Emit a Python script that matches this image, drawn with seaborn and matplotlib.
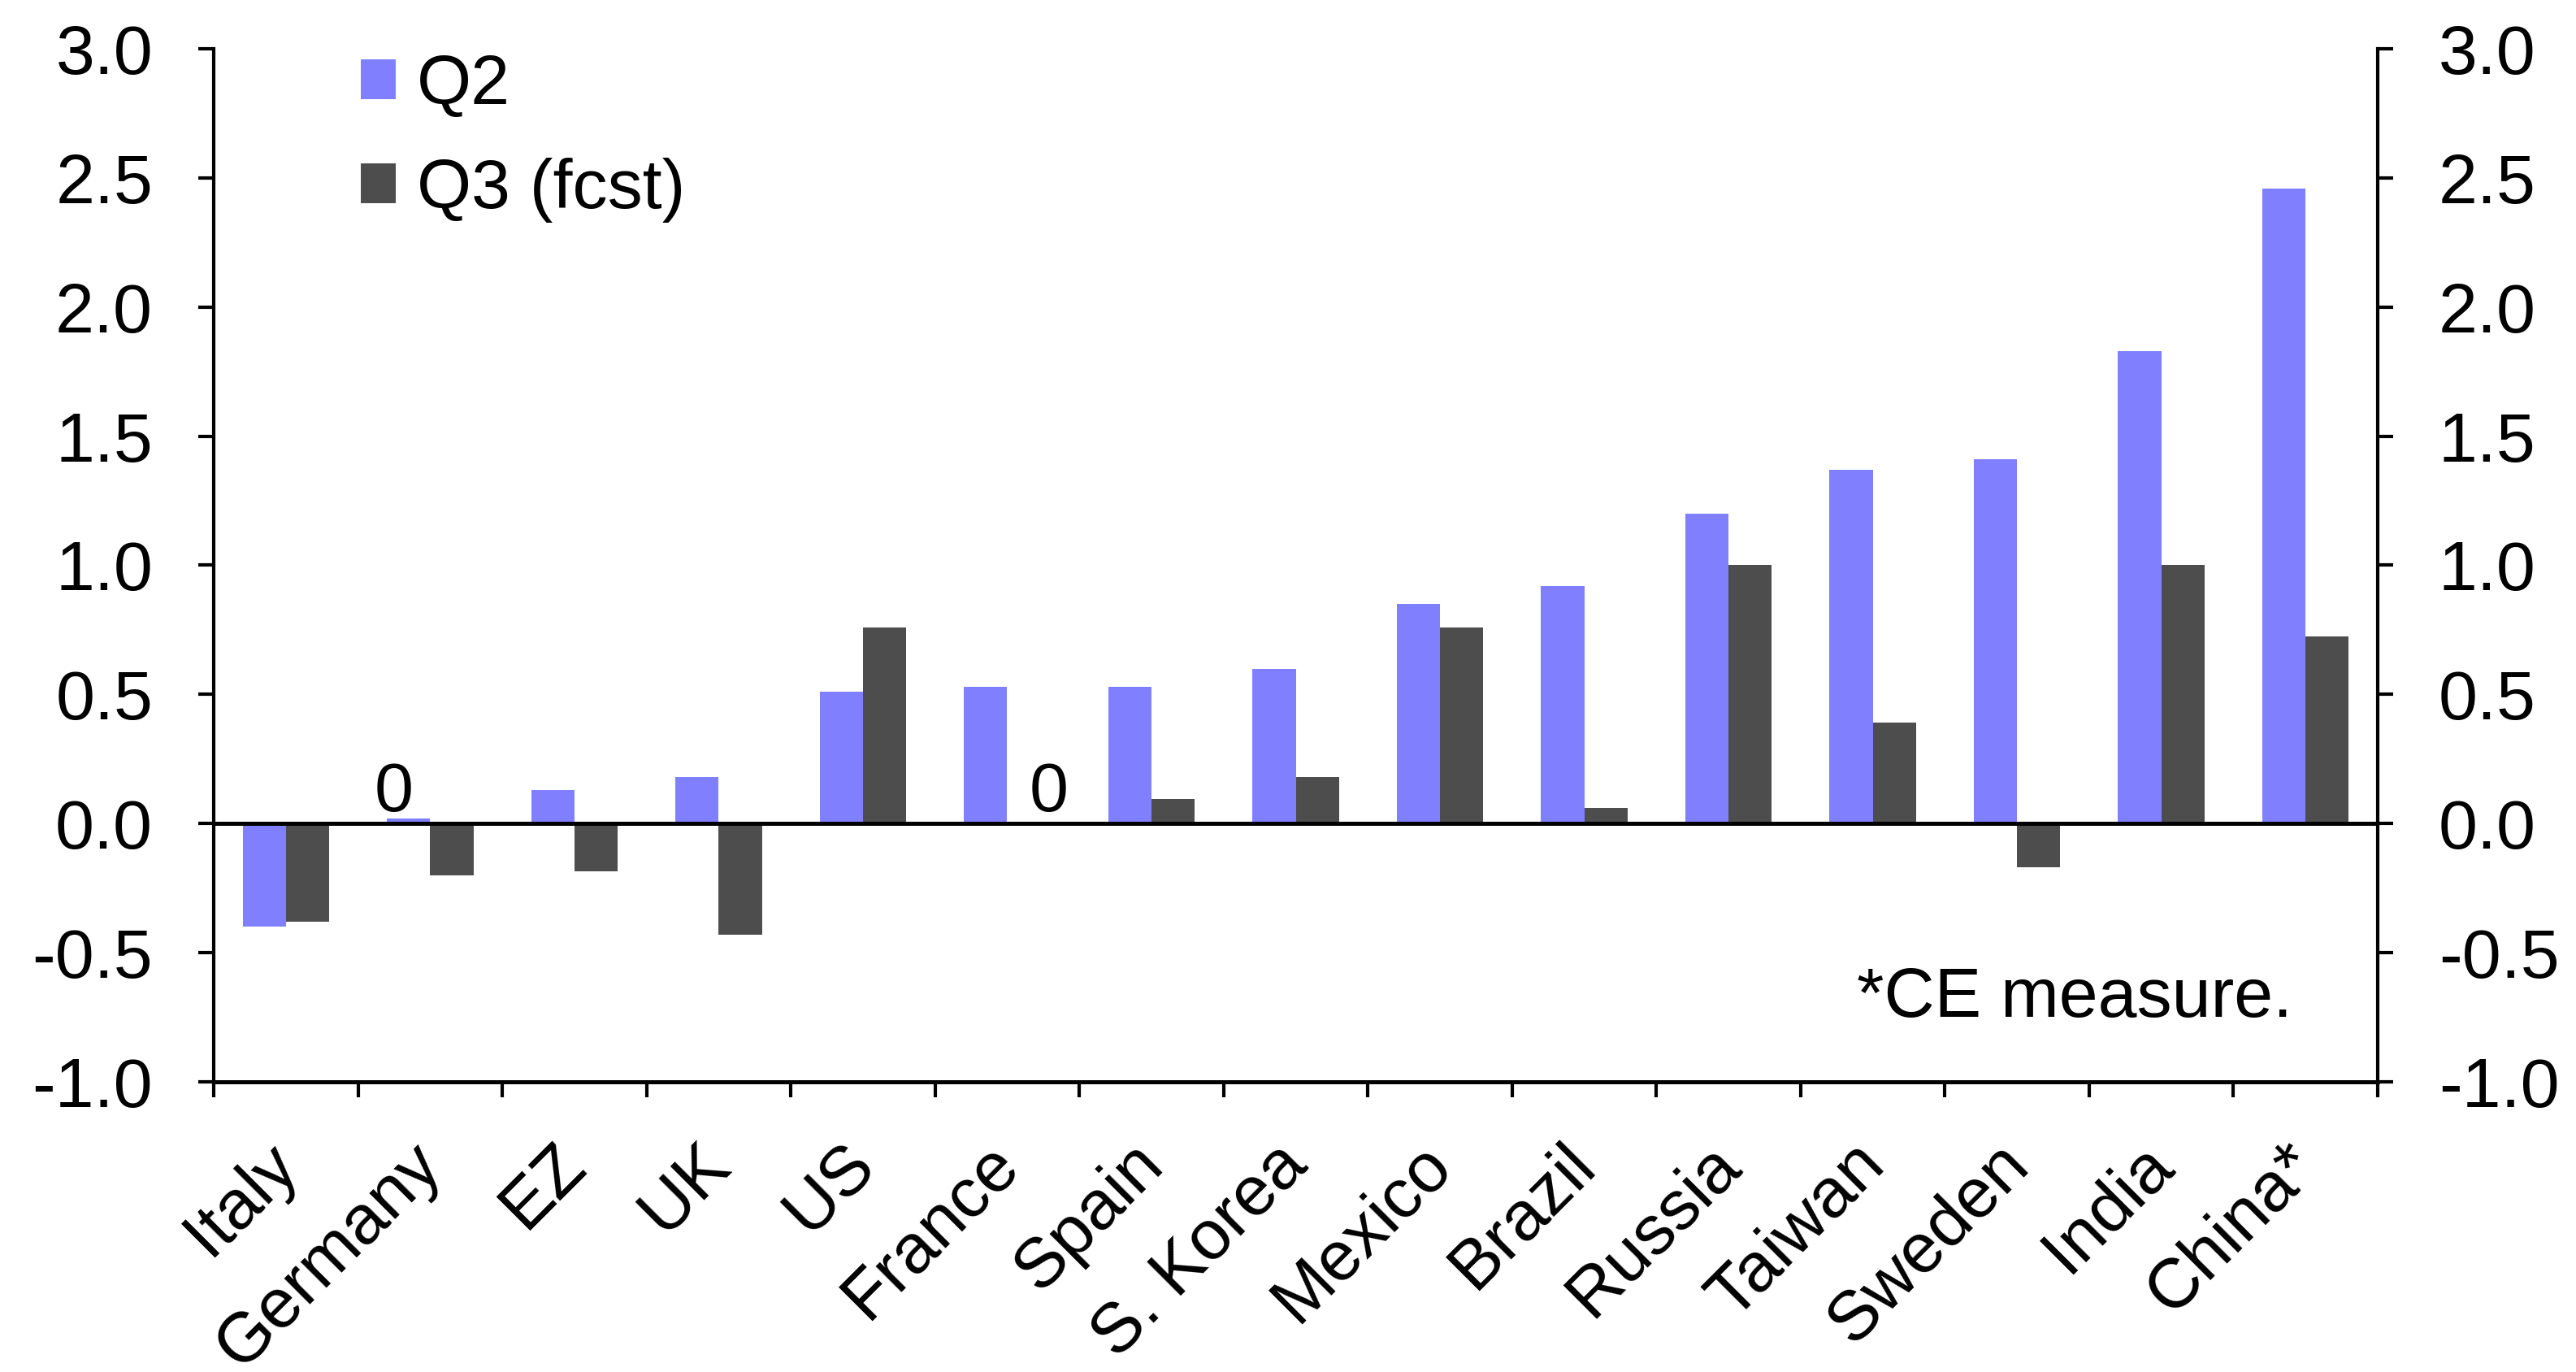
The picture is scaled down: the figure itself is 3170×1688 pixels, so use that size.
import matplotlib
matplotlib.use('Agg')
import matplotlib.pyplot as plt
import pandas as pd
import seaborn as sns

# Data
countries = ['Italy', 'Germany', 'EZ', 'UK', 'US', 'France', 'Spain', 'S. Korea',
             'Mexico', 'Brazil', 'Russia', 'Taiwan', 'Sweden', 'India', 'China*']
q2 = [-0.40, 0.02, 0.13, 0.18, 0.51, 0.53, 0.53, 0.60, 0.85, 0.92, 1.20, 1.37, 1.41, 1.83, 2.46]
q3 = [-0.38, -0.20, -0.185, -0.43, 0.76, 0.0, 0.095, 0.18, 0.76, 0.06, 1.00, 0.39, -0.17, 1.00, 0.725]
series = ['Q2', 'Q3 (fcst)']
colors = ['#8080FF', '#4D4D4D']
y_ticks = [-1.0, -0.5, 0.0, 0.5, 1.0, 1.5, 2.0, 2.5, 3.0]

df = pd.DataFrame({
    'country': countries * 2,
    'value': q2 + q3,
    'series': [series[0]] * len(countries) + [series[1]] * len(countries),
})

sns.set_style('white')
plt.rcParams['font.family'] = ['Liberation Sans', 'DejaVu Sans']
plt.rcParams['axes.unicode_minus'] = False
plt.rcParams['text.color'] = 'black'
plt.rcParams['xtick.color'] = 'black'
plt.rcParams['ytick.color'] = 'black'

fig = plt.figure(figsize=(15.85, 8.44), dpi=200)
ax = fig.add_axes([0.083, 0.2115, 0.84, 0.7530])

sns.barplot(data=df, x='country', y='value', hue='series', palette=colors,
            width=0.6, saturation=1, ax=ax, linewidth=0)

ax.set_xlim(-0.5, len(countries) - 0.5)
ax.set_ylim(-1.0, 3.0)
ax.set_yticks(y_ticks)
ax.set_yticklabels([f'{t:.1f}' for t in y_ticks])
ax.axhline(0, color='black', lw=1.8, zorder=3)

# x ticks at category boundaries, labels (invisible minor ticks) near centres
ax.set_xticks([i - 0.5 for i in range(len(countries) + 1)])
ax.set_xticklabels([])
ax.set_xticks([i - 0.15 for i in range(len(countries))], minor=True)
ax.set_xticklabels(countries, minor=True, rotation=45, ha='right',
                   rotation_mode='anchor', fontsize=31)
ax.tick_params(axis='x', which='major', direction='out', length=7, width=1.5, bottom=True)
ax.tick_params(axis='x', which='minor', length=0, pad=22)
ax.tick_params(axis='y', direction='out', length=7, width=1.5, labelsize=31,
               left=True, right=True, labelleft=True, labelright=True, pad=20)
ax.set_xlabel('')
ax.set_ylabel('')

for side in ['left', 'right', 'bottom']:
    ax.spines[side].set_visible(True)
    ax.spines[side].set_color('black')
    ax.spines[side].set_linewidth(1.5)
ax.spines['bottom'].set_linewidth(1.8)
ax.spines['top'].set_visible(False)

# zero annotations
ax.text(1 - 0.25, -0.01, '0', ha='center', va='bottom', fontsize=31)
ax.text(5 + 0.29, -0.01, '0', ha='center', va='bottom', fontsize=31)

ax.text(0.9605, 0.08, '*CE measure.', transform=ax.transAxes, ha='right',
        va='center', fontsize=31)

handles, labels = ax.get_legend_handles_labels()
ax.legend(handles, labels, loc='upper left', bbox_to_anchor=(0.068, 0.995),
          frameon=False, fontsize=31, handlelength=0.5, handleheight=0.5,
          handletextpad=0.3, labelspacing=0.55, borderaxespad=0, borderpad=0)

fig.savefig('out.png', dpi=200)
